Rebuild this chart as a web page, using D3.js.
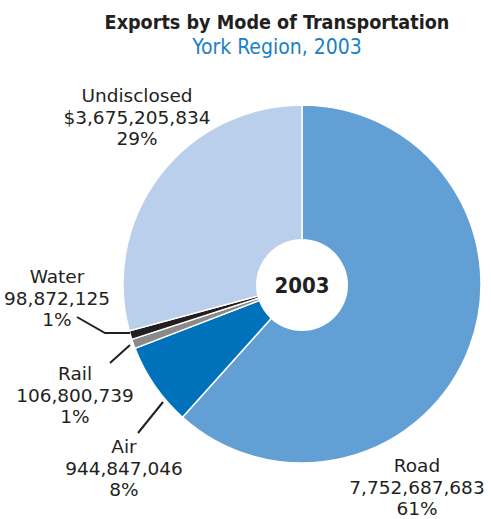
<!DOCTYPE html>
<html lang="en">
<head>
    <meta charset="UTF-8">
    <title>Exports by Mode of Transportation</title>
    <script src="https://d3js.org/d3.v7.min.js"></script>
    <style>
        body { margin: 0; background: #fff; }
        text { font-family: "DejaVu Sans Condensed", "DejaVu Sans", sans-serif; fill: #231f20; }
        text.lbl { font-family: "DejaVu Sans", sans-serif; }
    </style>
</head>
<body>
    <svg></svg>
    <script>
        const modes = ["Road", "Air", "Rail", "Water", "Undisclosed"];
        const values = [7752687683, 944847046, 106800739, 98872125, 3675205834];
        const valueLabels = ["7,752,687,683", "944,847,046", "106,800,739", "98,872,125", "$3,675,205,834"];
        const pctLabels = ["61%", "8%", "1%", "1%", "29%"];
        const colors = ["#629fd5", "#0072bc", "#8a8a8a", "#231f20", "#bacfeb"];

        const width = 491, height = 519;
        const cx = 302, cy = 284, radius = 179, hole = 46;

        const svg = d3.select("svg")
            .attr("width", width)
            .attr("height", height);

        // titles
        svg.append("text")
            .attr("x", 277).attr("y", 29)
            .attr("text-anchor", "middle")
            .style("font-weight", "bold")
            .style("font-size", "19.6px")
            .text("Exports by Mode of Transportation");

        svg.append("text")
            .attr("x", 277).attr("y", 54)
            .attr("text-anchor", "middle")
            .style("font-size", "21px")
            .style("fill", "#1a7fc8")
            .text("York Region, 2003");

        const data = modes.map((m, i) => ({ mode: m, value: values[i], label: valueLabels[i], pct: pctLabels[i], color: colors[i] }));

        const pie = d3.pie().sort(null).value(d => d.value);
        const arc = d3.arc().innerRadius(0).outerRadius(radius);

        const g = svg.append("g").attr("transform", `translate(${cx},${cy})`);

        g.selectAll("path")
            .data(pie(data))
            .enter()
            .append("path")
            .attr("d", arc)
            .attr("fill", d => d.data.color)
            .attr("stroke", "#fff")
            .attr("stroke-width", 1.5);

        // centre hole
        g.append("circle")
            .attr("cx", 0).attr("cy", 1)
            .attr("r", hole)
            .attr("fill", "#fff");

        g.append("text")
            .attr("x", 0).attr("y", 9)
            .attr("text-anchor", "middle")
            .style("font-weight", "bold")
            .style("font-size", "22px")
            .text("2003");

        // label positions (centre x, first baseline)
        const labelPos = {
            Road: [417, 472],
            Air: [124, 453],
            Rail: [75, 380],
            Water: [57, 283],
            Undisclosed: [137, 102]
        };

        data.forEach(d => {
            const [lx, ly] = labelPos[d.mode];
            const t = svg.append("text")
                .attr("class", "lbl")
                .attr("text-anchor", "middle")
                .style("font-size", "18.5px");
            [d.mode, d.label, d.pct].forEach((s, i) => {
                t.append("tspan")
                    .attr("x", lx)
                    .attr("y", ly + i * 21.5)
                    .text(s);
            });
        });

        // leader lines
        const leaders = [
            [[77, 317], [105, 333], [130, 333]],
            [[110, 363], [130, 345]],
            [[138, 433], [163, 402]]
        ];
        svg.selectAll(".leader")
            .data(leaders)
            .enter()
            .append("path")
            .attr("class", "leader")
            .attr("d", d3.line())
            .attr("fill", "none")
            .attr("stroke", "#231f20")
            .attr("stroke-width", 2);
    </script>
</body>
</html>
